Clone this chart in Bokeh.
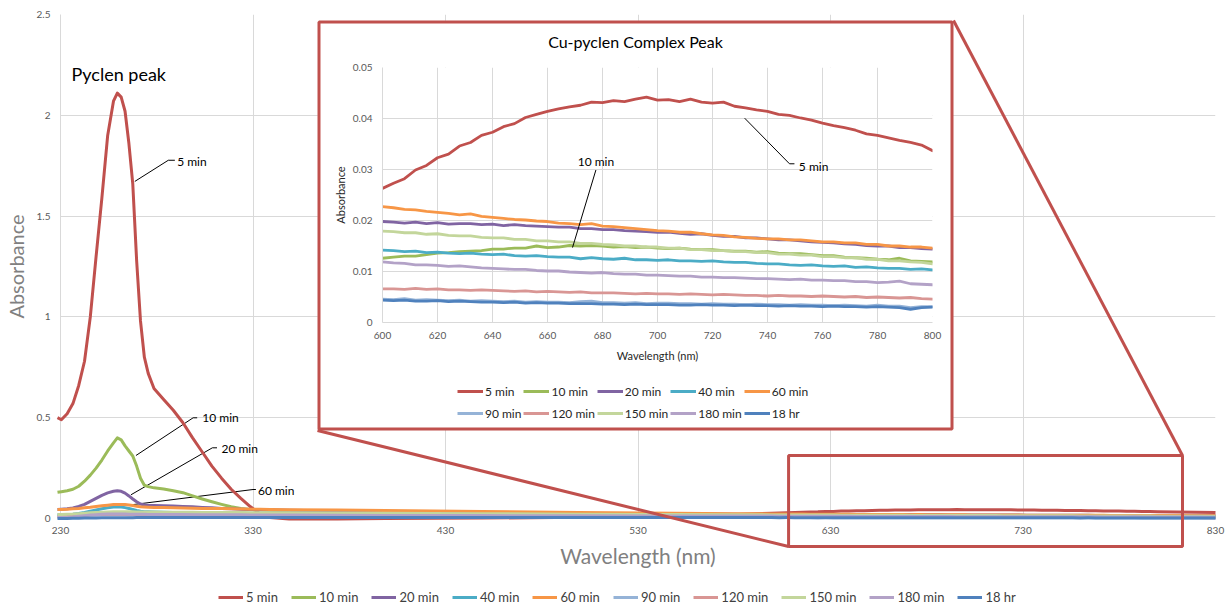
from bokeh.plotting import figure
from bokeh.models import (Range1d, FixedTicker, Legend, LegendItem, BoxAnnotation,
                          GridBox)
from bokeh.core.properties import value
from bokeh.embed import file_html
from bokeh.resources import INLINE

# ---------------- data ----------------
series_names = ["5 min", "10 min", "20 min", "40 min", "60 min",
                "90 min", "120 min", "150 min", "180 min", "18 hr"]
series_colors = ["#C0504D", "#9BBB59", "#8064A2", "#4BACC6", "#F79646",
                 "#95B3D7", "#D99694", "#C3D69B", "#B3A2C7", "#4F81BD"]

wl_uv = [230, 232, 235, 238, 241, 244, 247, 250, 253, 256,
         259, 261, 263, 265, 267, 269, 271, 273, 275, 277,
         280, 285, 290, 295, 300, 305, 310, 315, 320, 325,
         330, 335, 340, 350, 375, 400, 450, 500, 550, 580]
wl_vis = list(range(600, 801, 4)) + [810, 820, 830]

uv_5min = [0.50, 0.49, 0.52, 0.57, 0.66, 0.78, 1.00, 1.30, 1.59, 1.90,
           2.07, 2.11, 2.09, 2.02, 1.86, 1.66, 1.28, 0.98, 0.80, 0.72,
           0.645, 0.59, 0.537, 0.475, 0.40, 0.33, 0.26, 0.20, 0.145, 0.10,
           0.058, 0.022, 0.005, -0.002, -0.002, 0.0, 0.002, 0.006, 0.013, 0.019]
uv_10min = [0.13, 0.133, 0.138, 0.145, 0.16, 0.185, 0.215, 0.25, 0.29, 0.335,
            0.375, 0.40, 0.39, 0.36, 0.335, 0.31, 0.26, 0.20, 0.165, 0.158,
            0.152, 0.146, 0.138, 0.128, 0.112, 0.097, 0.083, 0.07, 0.058, 0.05,
            0.045, 0.043, 0.041, 0.038, 0.033, 0.029, 0.022, 0.017, 0.014, 0.013]
uv_20min = [0.045, 0.046, 0.048, 0.052, 0.06, 0.07, 0.085, 0.10, 0.115, 0.127,
            0.135, 0.138, 0.135, 0.126, 0.112, 0.097, 0.083, 0.072, 0.067, 0.065,
            0.064, 0.063, 0.062, 0.06, 0.058, 0.055, 0.053, 0.05, 0.048, 0.046,
            0.045, 0.044, 0.043, 0.041, 0.037, 0.034, 0.029, 0.025, 0.022, 0.0205]
uv_40min = [0.018, 0.018, 0.019, 0.021, 0.025, 0.03, 0.036, 0.042, 0.048, 0.053,
            0.057, 0.058, 0.057, 0.054, 0.05, 0.045, 0.04, 0.036, 0.034, 0.033,
            0.032, 0.031, 0.03, 0.03, 0.029, 0.029, 0.028, 0.028, 0.027, 0.027,
            0.026, 0.026, 0.026, 0.025, 0.024, 0.022, 0.02, 0.017, 0.0155, 0.0145]
uv_60min = [0.045, 0.045, 0.046, 0.048, 0.05, 0.053, 0.056, 0.06, 0.063, 0.066,
            0.069, 0.07, 0.07, 0.069, 0.067, 0.064, 0.061, 0.058, 0.057, 0.056,
            0.055, 0.054, 0.053, 0.052, 0.051, 0.05, 0.05, 0.049, 0.048, 0.047,
            0.046, 0.046, 0.045, 0.044, 0.042, 0.04, 0.035, 0.03, 0.026, 0.024]
uv_90min = [0.012, 0.012, 0.013, 0.014, 0.015, 0.016, 0.017, 0.0175, 0.018, 0.018,
            0.018, 0.018, 0.018, 0.018, 0.0178, 0.0175, 0.0172, 0.017, 0.0168, 0.0166,
            0.0164, 0.016, 0.0158, 0.0155, 0.0152, 0.015, 0.0147, 0.0145, 0.0142, 0.014,
            0.0137, 0.0135, 0.0132, 0.0128, 0.0118, 0.011, 0.0092, 0.0075, 0.006, 0.005]
uv_120min = [0.01, 0.01, 0.011, 0.012, 0.014, 0.016, 0.018, 0.019, 0.02, 0.0205,
             0.021, 0.021, 0.021, 0.0205, 0.02, 0.0197, 0.0195, 0.0192, 0.019, 0.0188,
             0.0185, 0.018, 0.0178, 0.0175, 0.0172, 0.017, 0.0167, 0.0164, 0.0161, 0.0158,
             0.0155, 0.0152, 0.015, 0.0145, 0.0133, 0.0122, 0.0105, 0.0088, 0.0074, 0.0068]
uv_150min = [0.02, 0.02, 0.021, 0.022, 0.024, 0.026, 0.028, 0.03, 0.031, 0.032,
             0.033, 0.034, 0.034, 0.034, 0.0335, 0.033, 0.0328, 0.0325, 0.0322, 0.032,
             0.0318, 0.0315, 0.031, 0.0307, 0.0304, 0.0302, 0.03, 0.0298, 0.0295, 0.0292,
             0.029, 0.0288, 0.0286, 0.0282, 0.0272, 0.026, 0.0238, 0.0215, 0.0195, 0.0185]
uv_180min = [0.005, 0.005, 0.006, 0.008, 0.011, 0.014, 0.017, 0.019, 0.021, 0.022,
             0.022, 0.022, 0.022, 0.0218, 0.0215, 0.0212, 0.021, 0.0208, 0.0205, 0.0203,
             0.0201, 0.0198, 0.0195, 0.0193, 0.019, 0.0188, 0.0186, 0.0184, 0.0182, 0.018,
             0.0178, 0.0176, 0.0174, 0.017, 0.0162, 0.0155, 0.0143, 0.0135, 0.0127, 0.0122]
uv_18hr = [0.0, 0.0, 0.0005, 0.001, 0.0015, 0.002, 0.0025, 0.003, 0.0035, 0.0038,
           0.004, 0.004, 0.004, 0.004, 0.0042, 0.0043, 0.0044, 0.0045, 0.0046, 0.0046,
           0.0047, 0.0048, 0.0048, 0.0049, 0.0049, 0.005, 0.005, 0.005, 0.005, 0.005,
           0.005, 0.005, 0.005, 0.005, 0.005, 0.005, 0.0049, 0.0048, 0.0046, 0.0045]

vis_5min = [0.0263, 0.0273, 0.0282, 0.0299, 0.0308, 0.0323, 0.0330, 0.0346, 0.0353, 0.0367,
            0.0373, 0.0384, 0.0390, 0.0402, 0.0408, 0.0414, 0.0419, 0.0423, 0.0426, 0.0432,
            0.0431, 0.0435, 0.0433, 0.0438, 0.0442, 0.0436, 0.0437, 0.0433, 0.0438, 0.0432,
            0.0430, 0.0432, 0.0424, 0.0421, 0.0417, 0.0414, 0.0408, 0.0406, 0.0401, 0.0397,
            0.0391, 0.0386, 0.0382, 0.0377, 0.0370, 0.0367, 0.0362, 0.0357, 0.0353, 0.0348,
            0.0337, 0.0322, 0.0309, 0.0297]
vis_10min = [0.0126, 0.0128, 0.0130, 0.0130, 0.0133, 0.0136, 0.0137, 0.0139, 0.0140, 0.0141,
             0.0144, 0.0144, 0.0146, 0.0146, 0.0150, 0.0147, 0.0148, 0.0151, 0.0150, 0.0151,
             0.0150, 0.0148, 0.0149, 0.0147, 0.0148, 0.0146, 0.0145, 0.0146, 0.0144, 0.0143,
             0.0143, 0.0141, 0.0140, 0.0140, 0.0138, 0.0139, 0.0136, 0.0135, 0.0135, 0.0133,
             0.0131, 0.0131, 0.0128, 0.0127, 0.0126, 0.0124, 0.0123, 0.0126, 0.0121, 0.0120,
             0.0119, 0.0116, 0.0113, 0.0110]
vis_20min = [0.0198, 0.0197, 0.0195, 0.0197, 0.0194, 0.0196, 0.0193, 0.0194, 0.0194, 0.0192,
             0.0193, 0.0190, 0.0192, 0.0190, 0.0189, 0.0188, 0.0187, 0.0187, 0.0184, 0.0184,
             0.0182, 0.0182, 0.0180, 0.0179, 0.0178, 0.0177, 0.0177, 0.0175, 0.0173, 0.0174,
             0.0171, 0.0169, 0.0169, 0.0166, 0.0166, 0.0164, 0.0162, 0.0162, 0.0160, 0.0158,
             0.0157, 0.0156, 0.0154, 0.0153, 0.0151, 0.0150, 0.0150, 0.0147, 0.0147, 0.0145,
             0.0144, 0.0140, 0.0137, 0.0134]
vis_40min = [0.0142, 0.0141, 0.0139, 0.0140, 0.0137, 0.0138, 0.0136, 0.0135, 0.0136, 0.0134,
             0.0133, 0.0134, 0.0131, 0.0130, 0.0131, 0.0129, 0.0128, 0.0128, 0.0125, 0.0127,
             0.0125, 0.0124, 0.0126, 0.0123, 0.0123, 0.0122, 0.0123, 0.0121, 0.0121, 0.0120,
             0.0121, 0.0119, 0.0118, 0.0118, 0.0116, 0.0115, 0.0115, 0.0113, 0.0112, 0.0113,
             0.0111, 0.0110, 0.0111, 0.0108, 0.0109, 0.0107, 0.0106, 0.0106, 0.0104, 0.0105,
             0.0103, 0.0101, 0.0099, 0.0097]
vis_60min = [0.0227, 0.0225, 0.0222, 0.0221, 0.0218, 0.0216, 0.0214, 0.0211, 0.0213, 0.0208,
             0.0206, 0.0204, 0.0202, 0.0201, 0.0199, 0.0198, 0.0195, 0.0194, 0.0192, 0.0194,
             0.0189, 0.0188, 0.0186, 0.0184, 0.0182, 0.0180, 0.0179, 0.0177, 0.0177, 0.0174,
             0.0172, 0.0171, 0.0168, 0.0167, 0.0165, 0.0164, 0.0164, 0.0162, 0.0162, 0.0160,
             0.0158, 0.0158, 0.0156, 0.0156, 0.0153, 0.0153, 0.0150, 0.0150, 0.0148, 0.0148,
             0.0146, 0.0143, 0.0140, 0.0137]
vis_90min = [0.0046, 0.0045, 0.0047, 0.0044, 0.0045, 0.0044, 0.0043, 0.0044, 0.0042, 0.0043,
             0.0042, 0.0041, 0.0042, 0.0040, 0.0041, 0.0040, 0.0040, 0.0039, 0.0041, 0.0042,
             0.0039, 0.0039, 0.0038, 0.0039, 0.0037, 0.0038, 0.0038, 0.0037, 0.0037, 0.0036,
             0.0037, 0.0036, 0.0036, 0.0035, 0.0036, 0.0035, 0.0035, 0.0034, 0.0035, 0.0034,
             0.0034, 0.0033, 0.0034, 0.0033, 0.0032, 0.0034, 0.0032, 0.0032, 0.0029, 0.0031,
             0.0031, 0.0030, 0.0029, 0.0028]
vis_120min = [0.0066, 0.0066, 0.0065, 0.0067, 0.0065, 0.0066, 0.0064, 0.0064, 0.0063, 0.0064,
              0.0063, 0.0062, 0.0061, 0.0062, 0.0060, 0.0061, 0.0060, 0.0059, 0.0060, 0.0058,
              0.0058, 0.0058, 0.0057, 0.0056, 0.0057, 0.0056, 0.0056, 0.0055, 0.0056, 0.0055,
              0.0054, 0.0055, 0.0054, 0.0053, 0.0053, 0.0052, 0.0053, 0.0052, 0.0052, 0.0051,
              0.0052, 0.0051, 0.0050, 0.0051, 0.0049, 0.0050, 0.0049, 0.0048, 0.0049, 0.0047,
              0.0046, 0.0045, 0.0044, 0.0043]
vis_150min = [0.0179, 0.0178, 0.0176, 0.0176, 0.0173, 0.0174, 0.0171, 0.0170, 0.0170, 0.0167,
              0.0166, 0.0166, 0.0163, 0.0163, 0.0160, 0.0160, 0.0158, 0.0158, 0.0155, 0.0155,
              0.0153, 0.0152, 0.0150, 0.0150, 0.0148, 0.0148, 0.0146, 0.0146, 0.0143, 0.0143,
              0.0141, 0.0141, 0.0139, 0.0139, 0.0137, 0.0137, 0.0134, 0.0134, 0.0132, 0.0132,
              0.0129, 0.0129, 0.0127, 0.0127, 0.0124, 0.0124, 0.0121, 0.0121, 0.0119, 0.0118,
              0.0115, 0.0111, 0.0108, 0.0105]
vis_180min = [0.0119, 0.0117, 0.0116, 0.0113, 0.0113, 0.0112, 0.0110, 0.0111, 0.0109, 0.0107,
              0.0106, 0.0105, 0.0104, 0.0104, 0.0102, 0.0101, 0.0101, 0.0099, 0.0098, 0.0097,
              0.0098, 0.0096, 0.0095, 0.0095, 0.0093, 0.0093, 0.0092, 0.0091, 0.0091, 0.0089,
              0.0089, 0.0088, 0.0088, 0.0087, 0.0086, 0.0086, 0.0085, 0.0084, 0.0085, 0.0083,
              0.0083, 0.0082, 0.0082, 0.0080, 0.0080, 0.0078, 0.0079, 0.0081, 0.0076, 0.0075,
              0.0074, 0.0072, 0.0070, 0.0068]
vis_18hr = [0.0044, 0.0043, 0.0044, 0.0042, 0.0042, 0.0043, 0.0041, 0.0042, 0.0041, 0.0040,
            0.0040, 0.0039, 0.0040, 0.0038, 0.0039, 0.0038, 0.0038, 0.0037, 0.0037, 0.0037,
            0.0036, 0.0036, 0.0035, 0.0036, 0.0035, 0.0035, 0.0035, 0.0034, 0.0034, 0.0035,
            0.0034, 0.0034, 0.0033, 0.0034, 0.0033, 0.0033, 0.0032, 0.0033, 0.0032, 0.0032,
            0.0031, 0.0032, 0.0031, 0.0031, 0.0030, 0.0031, 0.0030, 0.0029, 0.0026, 0.0029,
            0.0030, 0.0029, 0.0028, 0.0027]

main_x_ticks = [230, 330, 430, 530, 630, 730, 830]
main_y_ticks = [0, 0.5, 1, 1.5, 2, 2.5]
main_y_labels = ["0", "0.5", "1", "1.5", "2", "2.5"]
inset_x_ticks = [600, 620, 640, 660, 680, 700, 720, 740, 760, 780, 800]
inset_y_ticks = [0, 0.01, 0.02, 0.03, 0.04, 0.05]
inset_y_labels = ["0", "0.01", "0.02", "0.03", "0.04", "0.05"]

uv_series = [uv_5min, uv_10min, uv_20min, uv_40min, uv_60min,
             uv_90min, uv_120min, uv_150min, uv_180min, uv_18hr]
vis_series = [vis_5min, vis_10min, vis_20min, vis_40min, vis_60min,
              vis_90min, vis_120min, vis_150min, vis_180min, vis_18hr]

FONT = "Lato"
RED = "#C0504D"
GRID = "#D9D9D9"

# ---------------- layout constants ----------------
W, H = 1229, 606
ML, MR, MT, MB = 57, 14, 14, 88
X0, X1, Y0, Y1 = 230, 830, 0, 2.5
INSET_L, INSET_T, INSET_W, INSET_H = 317, 20, 636, 410
fw, fh = W - ML - MR, H - MT - MB


def px_x(px):
    return X0 + (px - ML) * (X1 - X0) / fw


def px_y(py):
    return Y0 + (H - MB - py) * (Y1 - Y0) / fh


def style_axis(ax, title_size, title_color):
    ax.axis_line_color = GRID
    ax.major_tick_line_color = None
    ax.minor_tick_line_color = None
    ax.major_tick_out = 0
    ax.major_tick_in = 0
    ax.minor_tick_out = 0
    ax.major_label_text_font = FONT
    ax.major_label_text_font_size = "10px"
    ax.major_label_text_color = "#595959"
    ax.axis_label_text_font = FONT
    ax.axis_label_text_font_style = "normal"
    ax.axis_label_text_color = title_color
    ax.axis_label_text_font_size = title_size


# ---------------- main figure (axes, grid, annotations) ----------------
p = figure(width=W, height=H, x_range=Range1d(X0, X1), y_range=Range1d(Y0, Y1),
           output_backend="svg", toolbar_location=None,
           min_border_left=ML, min_border_right=MR, min_border_top=MT, min_border_bottom=MB)
p.frame_align = False
p.outline_line_color = None
p.xaxis.ticker = FixedTicker(ticks=main_x_ticks)
p.yaxis.ticker = FixedTicker(ticks=main_y_ticks)
p.yaxis.major_label_overrides = {t: l for t, l in zip(main_y_ticks, main_y_labels)}
style_axis(p.xaxis[0], "21px", "#808080")
style_axis(p.yaxis[0], "20px", "#808080")
p.xaxis.axis_label = "Wavelength (nm)"
p.yaxis.axis_label = "Absorbance"
p.xaxis.major_label_standoff = 8
p.yaxis.major_label_standoff = 10
p.xaxis.axis_label_standoff = 6
p.yaxis.axis_label_standoff = 6
p.xgrid.grid_line_color = GRID
p.ygrid.grid_line_color = GRID
p.xgrid.ticker = FixedTicker(ticks=main_x_ticks)
p.ygrid.ticker = FixedTicker(ticks=main_y_ticks)

# leader lines and labels in main plot
main_leaders = [
    ([268.6, 286.0, 289.4], [1.672, 1.777, 1.777]),
    ([269.2, 298.9, 301.0], [0.3125, 0.4995, 0.4995]),
    ([266.6, 308.9, 311.3], [0.1176, 0.3507, 0.3507]),
    ([266.9, 330.0, 331.5], [0.068, 0.1438, 0.1438]),
]
for xs, ys in main_leaders:
    p.line(xs, ys, line_color="black", line_width=1)
p.text(x=[290.6, 303.7, 313.6, 332.6], y=[1.769, 0.501, 0.3457, 0.14],
       text=["5 min", "10 min", "20 min", "60 min"],
       text_font=value(FONT), text_font_size="12px", text_color="black",
       text_baseline="middle", text_align="left")
p.text(x=[235.7], y=[2.204], text=["Pyclen peak"], text_font=value(FONT),
       text_font_size="18px", text_color="black", text_baseline="middle", text_align="left")

# ---------------- inset figure ----------------
q = figure(width=INSET_W, height=INSET_H, x_range=Range1d(600, 800), y_range=Range1d(0, 0.05),
           output_backend="svg", toolbar_location=None,
           min_border_left=65, min_border_right=21, min_border_top=47, min_border_bottom=108)
q.frame_align = False
q.outline_line_color = None
q.xaxis.ticker = FixedTicker(ticks=inset_x_ticks)
q.yaxis.ticker = FixedTicker(ticks=inset_y_ticks)
q.yaxis.major_label_overrides = {t: l for t, l in zip(inset_y_ticks, inset_y_labels)}
style_axis(q.xaxis[0], "11px", "#262626")
style_axis(q.yaxis[0], "11px", "#262626")
q.xaxis.axis_label = "Wavelength (nm)"
q.yaxis.axis_label = "Absorbance"
q.xaxis.major_label_standoff = 9
q.yaxis.major_label_standoff = 10
q.xaxis.axis_label_standoff = 7
q.yaxis.axis_label_standoff = 3
q.xgrid.grid_line_color = GRID
q.ygrid.grid_line_color = GRID
q.xgrid.ticker = FixedTicker(ticks=inset_x_ticks)
q.ygrid.ticker = FixedTicker(ticks=inset_y_ticks)

for name, col, vis in zip(series_names, series_colors, vis_series):
    q.line(wl_vis, vis, line_color=col, line_width=2.8, line_join="round")

q.line([731.7, 748.0, 749.8], [0.04006, 0.03112, 0.03112], line_color="black", line_width=1)
q.line([669.1, 677.6], [0.0147, 0.0299], line_color="black", line_width=1)
q.text(x=[751.4], y=[0.0306], text=["5 min"], text_font=value(FONT), text_font_size="12px",
       text_color="black", text_baseline="middle", text_align="left")
q.text(x=[677.6], y=[0.03157], text=["10 min"], text_font=value(FONT), text_font_size="12px",
       text_color="black", text_baseline="middle", text_align="center")

# ---------------- transparent overlay: main spectra, zoom box, frame, legends ----------------
ov = figure(width=W, height=H,
            x_range=Range1d(px_x(0), px_x(W)), y_range=Range1d(px_y(H), px_y(0)),
            output_backend="svg", toolbar_location=None,
            x_axis_location=None, y_axis_location=None,
            min_border_left=0, min_border_right=0, min_border_top=0, min_border_bottom=0)
ov.frame_align = False
ov.title.visible = False
ov.grid.visible = False
ov.outline_line_color = None
ov.background_fill_color = None
ov.border_fill_color = None

legend_items = []
for name, col, uv, vis in zip(series_names, series_colors, uv_series, vis_series):
    r = ov.line(wl_uv + wl_vis, uv + vis, line_color=col, line_width=3, line_join="round")
    legend_items.append((name, r))

# inset title (centred on the inset box)
ov.text(x=[px_x(INSET_L + INSET_W / 2)], y=[px_y(INSET_T + 21)], text=["Cu-pyclen Complex Peak"],
        text_font=value(FONT), text_font_size="16px", text_color="black",
        text_baseline="middle", text_align="center")

# inset frame (red border)
ov.add_layout(BoxAnnotation(left=px_x(INSET_L + 1.5), right=px_x(INSET_L + INSET_W - 1.5),
                            top=px_y(INSET_T + 1.5), bottom=px_y(INSET_T + INSET_H - 1.5),
                            fill_alpha=0, line_color=RED, line_alpha=1, line_width=3))
# zoom box on the main plot
ov.add_layout(BoxAnnotation(left=608.8, right=812.9, top=0.3125, bottom=-0.139,
                            fill_alpha=0, line_color=RED, line_alpha=1, line_width=3))
# connectors from inset corners to the zoom box
ov.line([px_x(INSET_L), 608.8], [px_y(INSET_T + INSET_H), -0.139],
        line_color=RED, line_width=3)
ov.line([px_x(INSET_L + INSET_W), 812.9], [px_y(INSET_T), 0.3125],
        line_color=RED, line_width=3)

main_legend = Legend(items=[LegendItem(label=n, renderers=[r]) for n, r in legend_items],
                     location=(218, 1), orientation="horizontal",
                     glyph_width=25, glyph_height=14, label_height=14, label_standoff=3,
                     spacing=13, padding=0, margin=0, border_line_alpha=0,
                     background_fill_alpha=0, label_text_font=FONT,
                     label_text_font_size="13px", label_text_color="#404040")
ov.add_layout(main_legend)

inset_legend = Legend(items=[LegendItem(label=n, renderers=[r]) for n, r in legend_items],
                      location=(457, 183), orientation="horizontal",
                      ncols=5, glyph_width=26, glyph_height=20, label_height=20,
                      label_standoff=2, spacing=2, padding=0, margin=0,
                      border_line_alpha=0, background_fill_alpha=0, label_text_font=FONT,
                      label_text_font_size="12px", label_text_color="#262626")
ov.add_layout(inset_legend)

layout = GridBox(children=[(p, 0, 0, 3, 3), (q, 1, 1), (ov, 0, 0, 3, 3)],
                 rows=["%dpx" % INSET_T, "%dpx" % INSET_H, "%dpx" % (H - INSET_T - INSET_H)],
                 cols=["%dpx" % INSET_L, "%dpx" % INSET_W, "%dpx" % (W - INSET_L - INSET_W)],
                 spacing=0)

open("out.html", "w").write(file_html(layout, INLINE))
